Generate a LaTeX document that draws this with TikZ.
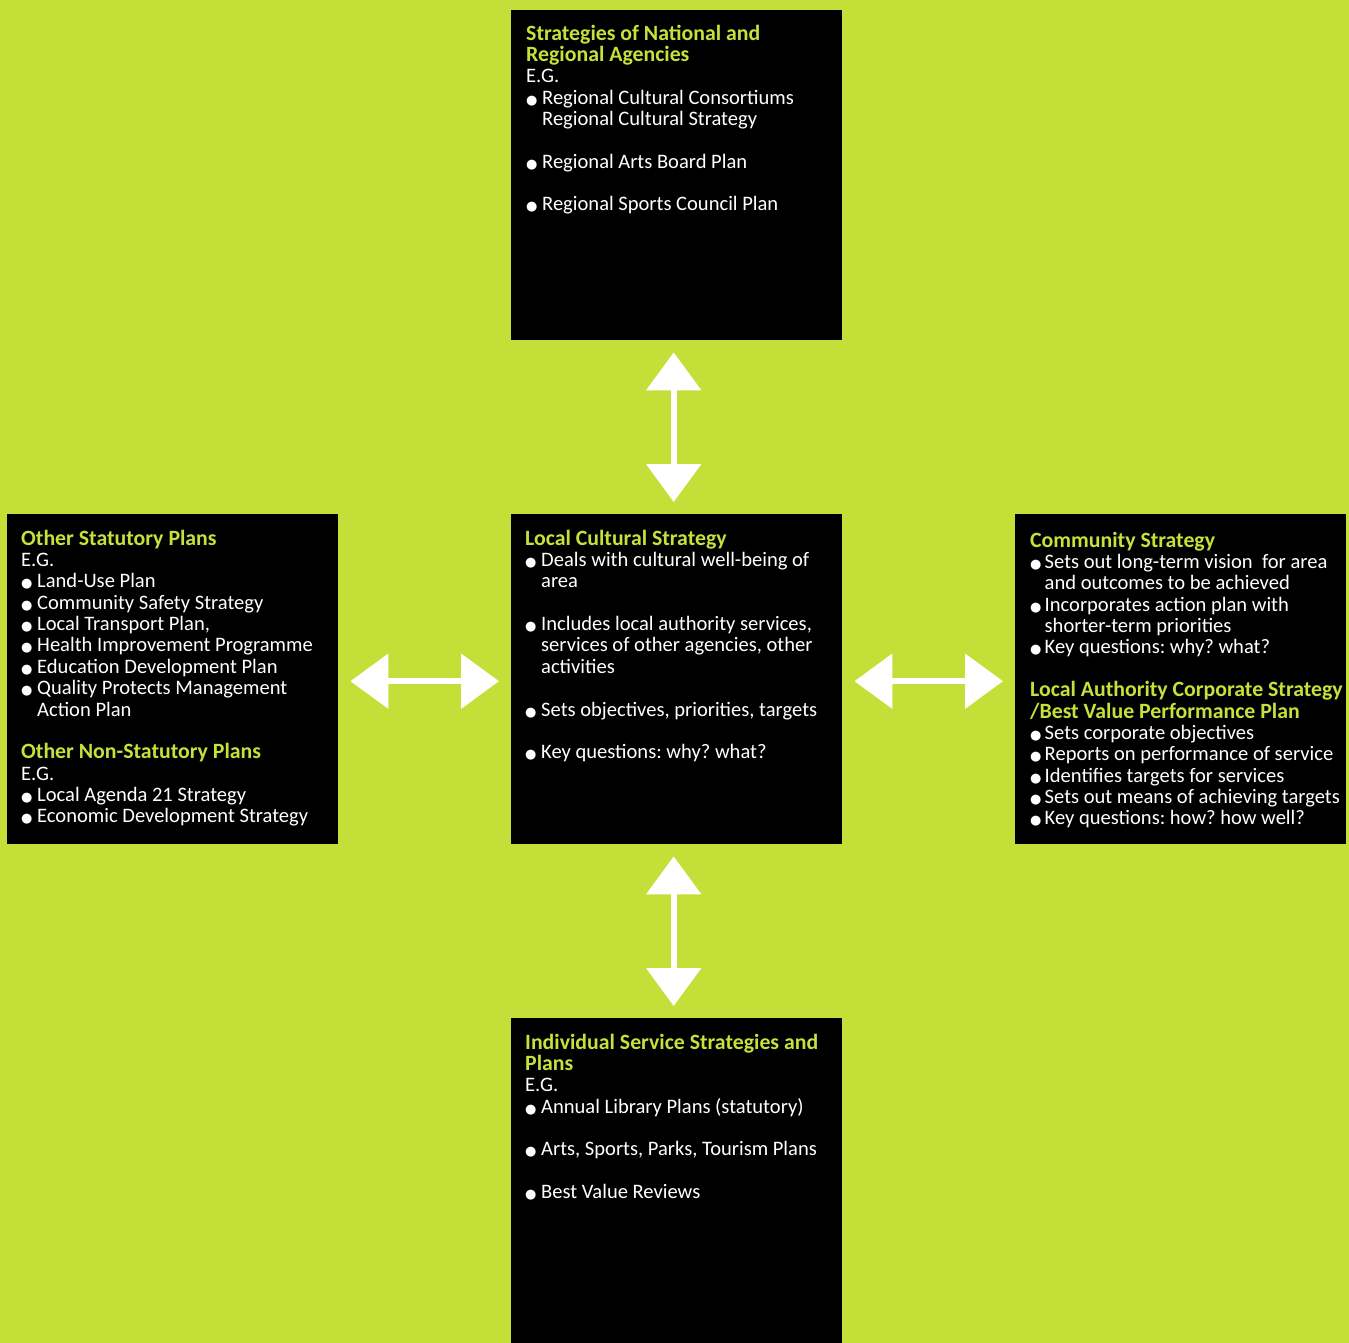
\documentclass[tikz,border=0pt]{standalone}
\usepackage{fontspec}
\usepackage{graphicx}
\setmainfont{Carlito}
\newfontfamily\dejavu{DejaVu Sans}
\usetikzlibrary{arrows.meta}
\definecolor{lime}{HTML}{C4DF37}
\definecolor{hdcol}{HTML}{C8E03A}
\newcommand\hd[1]{{\fontsize{21.8}{21.35}\selectfont\bfseries\color{hdcol}#1}}
\newcommand\bul{\makebox[16pt][l]{{\dejavu\fontsize{13}{13}\selectfont ●}}}
\newcommand\ind{\hspace*{16pt}}
\newcommand\bulr{\makebox[14.5pt][l]{{\dejavu\fontsize{13}{13}\selectfont ●}}}
\newcommand\indr{\hspace*{14.5pt}}
\newcommand\fs{\rule{0pt}{16pt}}
\newcommand\gp{\\[21.35pt]}
\frenchspacing
\begin{document}
\begin{tikzpicture}[x=1pt,y=-1pt,
  box/.style={fill=black, draw=none, anchor=north west, inner sep=0pt, minimum width=331pt, minimum height=330pt},
  txt/.style={anchor=north west, inner sep=0pt, align=left, text=white, font=\fontsize{20.55}{21.35}\selectfont\frenchspacing},
  dbl/.style={draw=white, line width=6pt, {Triangle[width=54pt,length=38pt]}-{Triangle[width=54pt,length=38pt]}, shorten <=12pt, shorten >=12pt}
]
\fill[lime] (0,0) rectangle (1349,1343);
\useasboundingbox (0,0) rectangle (1349,1343);

\node[box] (top) at (511,10) {};
\node[box] (left) at (7,514) {};
\node[box] (mid) at (511,514) {};
\node[box] (right) at (1015,514) {};
\node[box, minimum height=325pt] (bot) at (511,1018) {};

\draw[dbl] ([xshift=-3pt]top.south) -- ([xshift=-3pt]mid.north);
\draw[dbl] ([xshift=-3pt]mid.south) -- ([xshift=-3pt]bot.north);
\draw[dbl] ([yshift=-2pt]left.east) -- ([yshift=-2pt]mid.west);
\draw[dbl] ([yshift=-2pt]mid.east) -- ([yshift=-2pt]right.west);

\node[txt] (ttop) at (526,24) {\fs\hd{Strategies of National and}\\
\hd{Regional Agencies}\\
E.G.\\
\bul Regional Cultural Consortiums\\
\ind Regional Cultural Strategy\gp
\bul Regional Arts Board Plan\gp
\bul Regional Sports Council Plan};

\node[txt] (tleft) at (21,529) {\fs\hd{Other Statutory Plans}\\
E.G.\\
\bul Land-Use Plan\\
\bul Community Safety Strategy\\
\bul Local Transport Plan,\\
\bul Health Improvement Programme\\
\bul Education Development Plan\\
\bul Quality Protects Management\\
\ind Action Plan\gp
\hd{Other Non-Statutory Plans}\\
E.G.\\
\bul Local Agenda 21 Strategy\\
\bul Economic Development Strategy};

\node[txt] (tmid) at (525,529) {\fs\hd{Local Cultural Strategy}\\
\bul Deals with cultural well-being of\\
\ind area\gp
\bul Includes local authority services,\\
\ind services of other agencies, other\\
\ind activities\gp
\bul Sets objectives, priorities, targets\gp
\bul Key questions: why? what?};

\node[txt] (tright) at (1030,531) {\fs\hd{Community Strategy}\\
\bulr Sets out long-term vision\ \ for area\\
\indr and outcomes to be achieved\\
\bulr Incorporates action plan with\\
\indr shorter-term priorities\\
\bulr Key questions: why? what?\gp
\hd{Local Authority Corporate Strategy}\\
\hd{/Best Value Performance Plan}\\
\bulr Sets corporate objectives\\
\bulr Reports on performance of service\\
\bulr Identifies targets for services\\
\bulr Sets out means of achieving targets\\
\bulr Key questions: how? how well?};

\node[txt] (tbot) at (525,1033) {\fs\hd{Individual Service Strategies and}\\
\hd{Plans}\\
E.G.\\
\bul Annual Library Plans (statutory)\gp
\bul Arts, Sports, Parks, Tourism Plans\gp
\bul Best Value Reviews};
\end{tikzpicture}
\end{document}
